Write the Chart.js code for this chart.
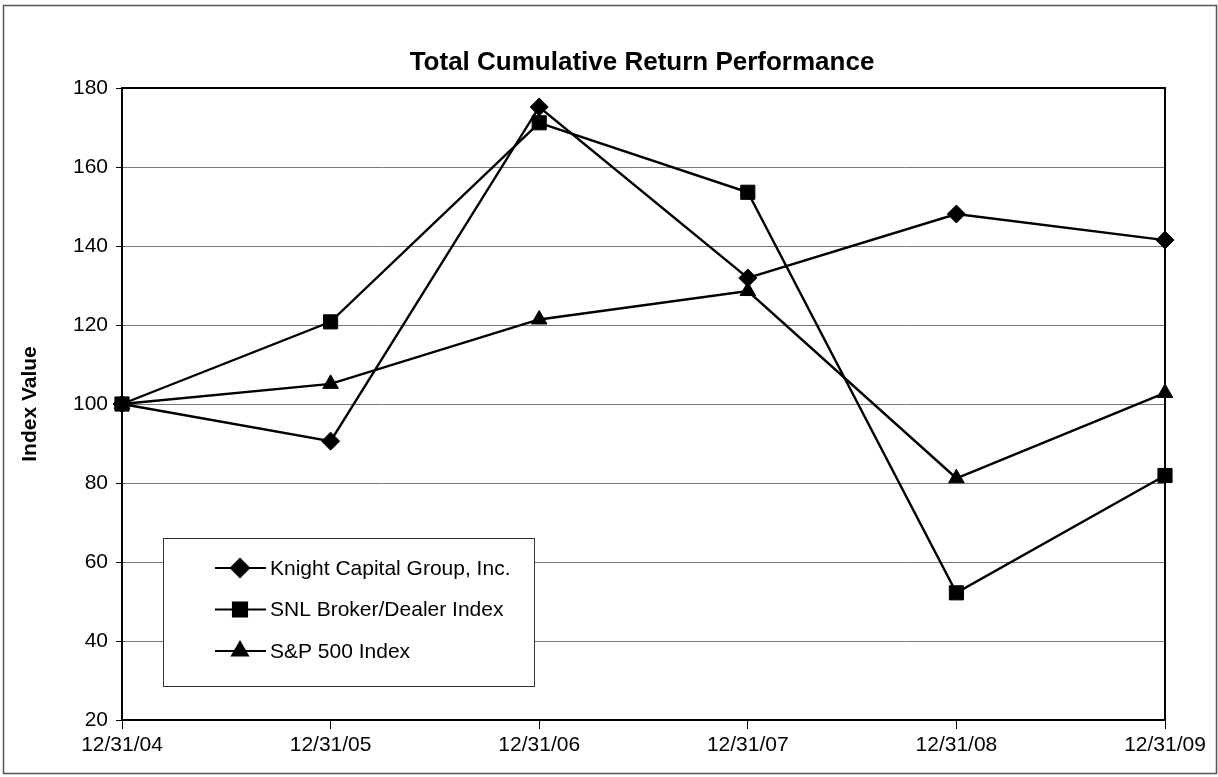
<!DOCTYPE html>
<html>
<head>
<meta charset="utf-8">
<script src="https://cdn.jsdelivr.net/npm/chart.js@4.4.1/dist/chart.umd.min.js"></script>
<style>
  html, body { margin: 0; padding: 0; background: #fff; }
  #wrap { width: 1218px; height: 777px; }
</style>
</head>
<body>
<div id="wrap"><canvas id="myChart" width="1218" height="777"></canvas></div>
<script>
// values
var labels = ["12/31/04", "12/31/05", "12/31/06", "12/31/07", "12/31/08", "12/31/09"];
var knight = [100, 90.6, 175.2, 131.9, 148.1, 141.5];
var snl = [100, 120.8, 171.2, 153.6, 52.2, 81.9];
var sp500 = [100, 105.1, 121.4, 128.6, 81.2, 102.8];
var chartTitle = "Total Cumulative Return Performance";

var FONT = "'Liberation Sans', Arial, sans-serif";

// frame, title, box on top/right of plot, and the boxed legend
var extras = {
  id: 'extras',
  beforeDraw: function (chart) {
    var ctx = chart.ctx;
    ctx.save();
    ctx.fillStyle = '#fff';
    ctx.fillRect(0, 0, chart.width, chart.height);
    ctx.strokeStyle = '#555';
    ctx.lineWidth = 1.5;
    ctx.strokeRect(3.5, 5.5, chart.width - 5, chart.height - 9);
    ctx.fillStyle = '#000';
    ctx.font = 'bold 26px ' + FONT;
    ctx.textAlign = 'center';
    ctx.textBaseline = 'middle';
    ctx.fillText(chartTitle, 642, 63);
    ctx.restore();
  },
  afterDatasetsDraw: function (chart) {
    var ctx = chart.ctx;
    var a = chart.chartArea;
    ctx.save();
    ctx.strokeStyle = '#000';
    ctx.lineWidth = 2;
    ctx.beginPath();
    ctx.moveTo(a.left, a.top);
    ctx.lineTo(a.right, a.top);
    ctx.lineTo(a.right, a.bottom);
    ctx.stroke();

    // legend box
    var bx = 163, by = 538, bw = 371, bh = 148;
    ctx.fillStyle = '#fff';
    ctx.fillRect(bx, by, bw, bh);
    ctx.strokeStyle = '#333';
    ctx.lineWidth = 1;
    ctx.strokeRect(bx + 0.5, by + 0.5, bw, bh);
    ctx.font = '21px ' + FONT;
    ctx.textBaseline = 'middle';
    chart.data.datasets.forEach(function (ds, i) {
      var y = 568 + i * 41.5;
      ctx.strokeStyle = '#000';
      ctx.fillStyle = '#000';
      ctx.lineWidth = 2;
      ctx.beginPath();
      ctx.moveTo(215, y);
      ctx.lineTo(266, y);
      ctx.stroke();
      Chart.helpers.drawPoint(ctx, {
        pointStyle: ds.pointStyle,
        radius: ds.pointRadius,
        rotation: 0,
        borderWidth: 1
      }, 240, y);
      ctx.fillStyle = '#000';
      ctx.fillText(ds.label, 270, y + 1);
    });
    ctx.restore();
  }
};

var ctx = document.getElementById("myChart").getContext("2d");

function series(label, data, style, r) {
  return {
    label: label,
    data: data,
    borderColor: '#000',
    backgroundColor: '#000',
    borderWidth: 2.4,
    pointStyle: style,
    pointRadius: r,
    pointHoverRadius: r,
    pointBackgroundColor: '#000',
    pointBorderColor: '#000',
    pointBorderWidth: 1,
    tension: 0,
    clip: false
  };
}

var myChart = new Chart(ctx, {
  type: "line",
  data: {
    labels: labels,
    datasets: [
      series("Knight Capital Group, Inc.", knight, 'rectRot', 9),
      series("SNL Broker/Dealer Index", snl, 'rect', 10),
      series("S&P 500 Index", sp500, 'triangle', 9)
    ]
  },
  options: {
    responsive: false,
    animation: false,
    events: [],
    layout: { padding: { left: 18, right: 53, top: 88, bottom: 0 } },
    plugins: {
      legend: { display: false },
      tooltip: { enabled: false },
      title: { display: false }
    },
    scales: {
      x: {
        offset: false,
        grid: {
          drawOnChartArea: false,
          drawTicks: true,
          tickLength: 9,
          tickColor: '#000',
          tickWidth: 1
        },
        border: { color: '#000', width: 2 },
        ticks: {
          color: '#000',
          font: { family: FONT, size: 21 },
          padding: 4,
          maxRotation: 0,
          autoSkip: false
        },
        afterFit: function (scale) { scale.height = 57; }
      },
      y: {
        min: 20,
        max: 180,
        ticks: {
          stepSize: 20,
          color: '#000',
          font: { family: FONT, size: 21 },
          padding: 8
        },
        grid: {
          color: '#777',
          lineWidth: 1,
          tickLength: 6,
          tickColor: '#000'
        },
        border: { color: '#000', width: 2 },
        title: {
          display: true,
          text: "Index Value",
          color: '#000',
          font: { family: FONT, size: 21, weight: 'bold' },
          padding: { top: 0, bottom: 0 }
        },
        afterFit: function (scale) { scale.width = 104; }
      }
    }
  },
  plugins: [extras]
});
</script>
</body>
</html>
